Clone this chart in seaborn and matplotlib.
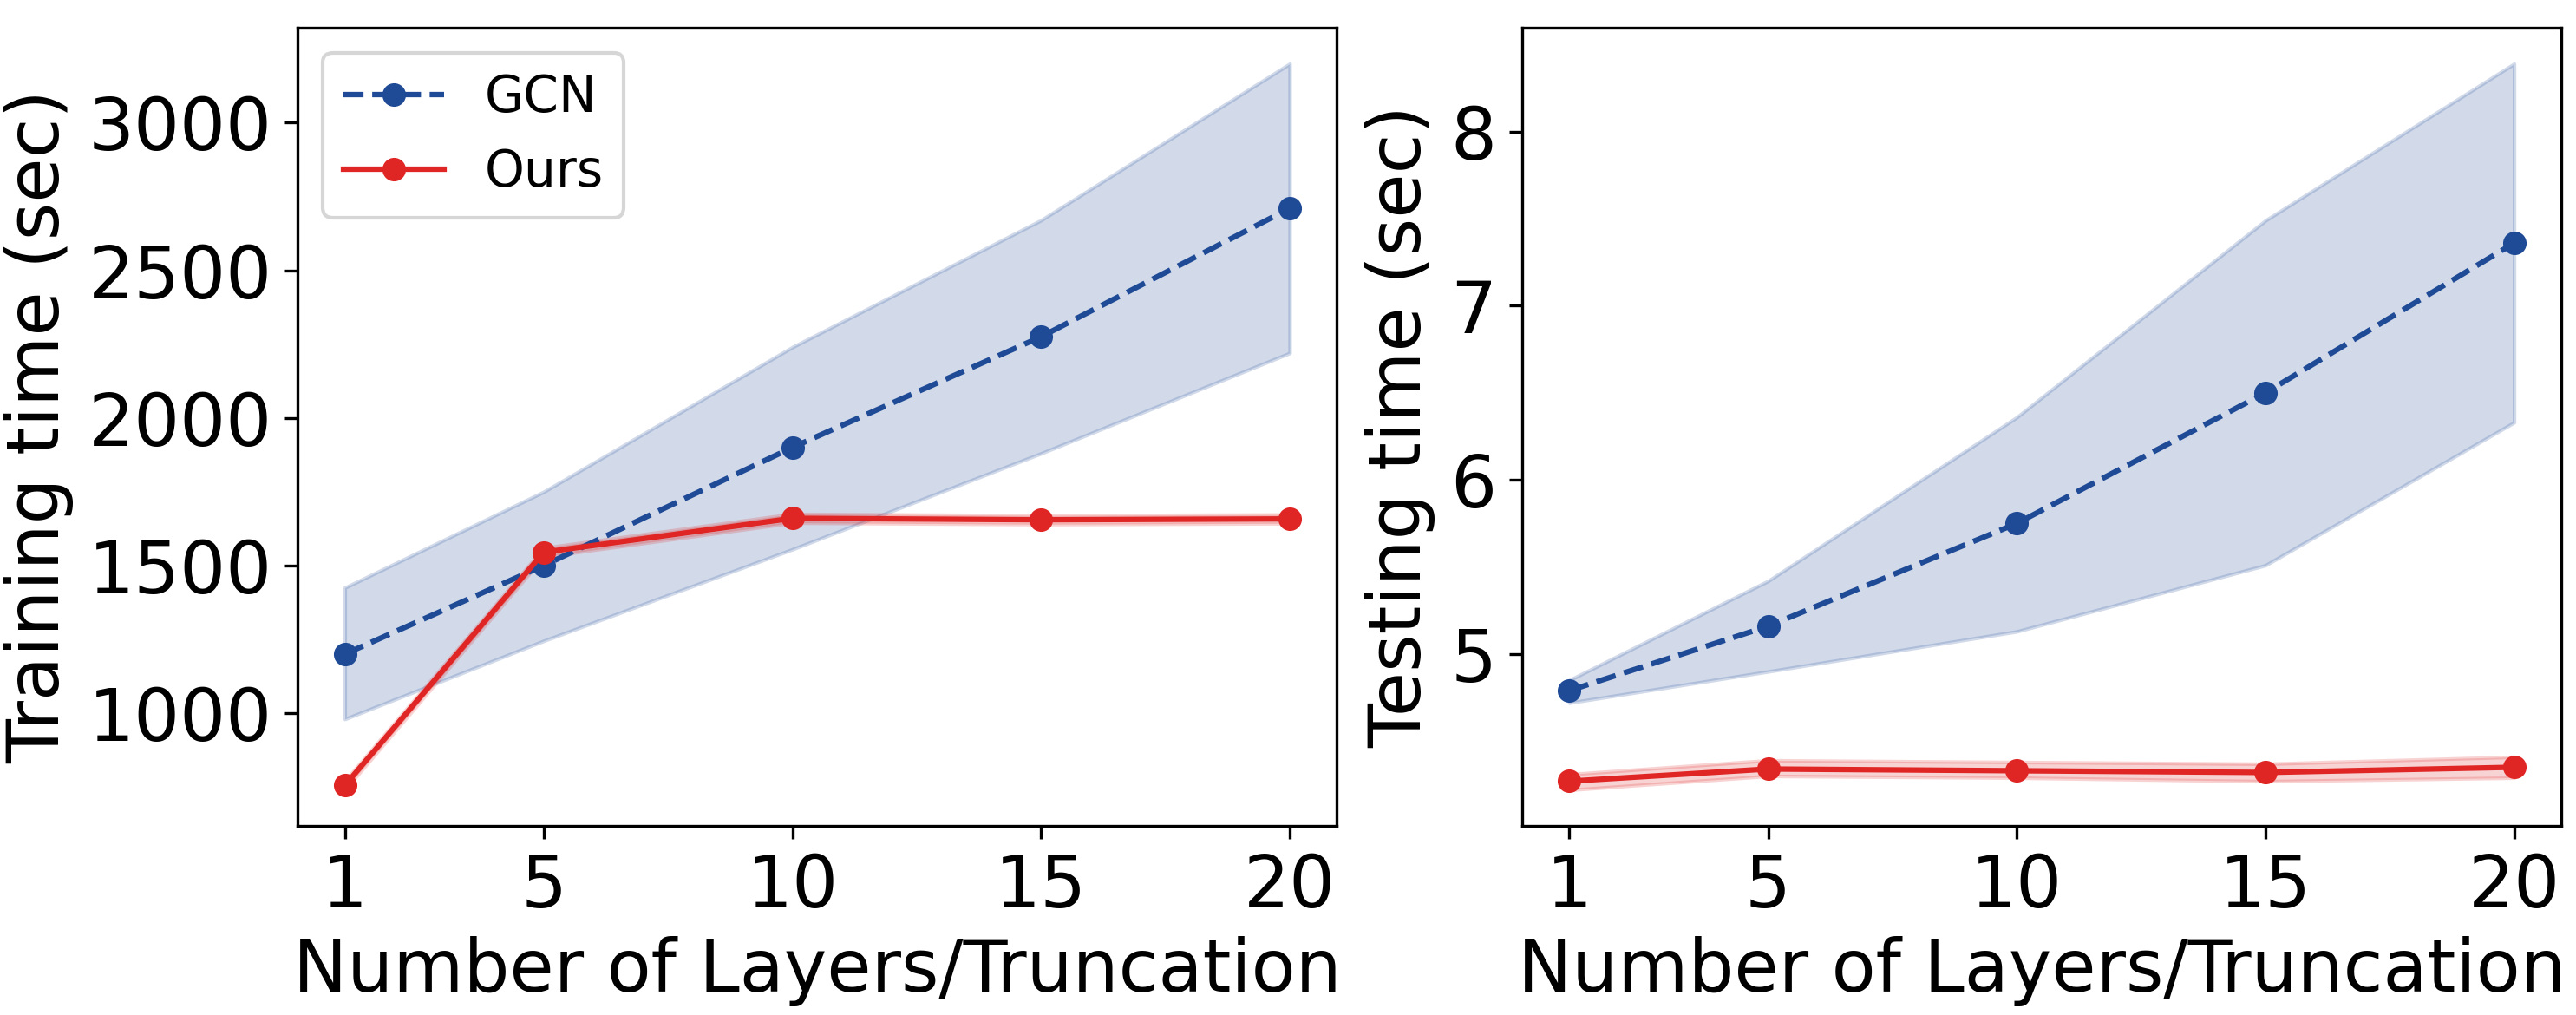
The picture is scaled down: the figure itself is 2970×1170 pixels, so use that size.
import matplotlib
matplotlib.use("Agg")
import matplotlib.pyplot as plt
import seaborn as sns
import pandas as pd

# ── Data ─────────────────────────────────────────────────────────────────────
LAYERS = [1, 5, 10, 15, 20]

train_gcn       = [1200, 1500, 1900, 2275, 2710]
train_gcn_low   = [980, 1245, 1555, 1880, 2220]
train_gcn_high  = [1425, 1750, 2240, 2670, 3200]
train_ours      = [755, 1545, 1660, 1655, 1658]
train_ours_low  = [740, 1530, 1645, 1640, 1643]
train_ours_high = [770, 1560, 1675, 1670, 1673]

test_gcn       = [4.79, 5.16, 5.75, 6.50, 7.36]
test_gcn_low   = [4.72, 4.90, 5.13, 5.51, 6.33]
test_gcn_high  = [4.85, 5.42, 6.36, 7.49, 8.39]
test_ours      = [4.27, 4.34, 4.33, 4.32, 4.35]
test_ours_low  = [4.22, 4.30, 4.29, 4.27, 4.29]
test_ours_high = [4.31, 4.39, 4.38, 4.37, 4.41]

TRAIN_TICKS = [1000, 1500, 2000, 2500, 3000]
TEST_TICKS = [5, 6, 7, 8]

BLUE = "#1f4a96"
RED = "#e02624"

fig, axes = plt.subplots(1, 2, figsize=(9.9, 3.9), dpi=300)
plt.subplots_adjust(left=0.1155, right=0.9943, bottom=0.186, top=0.973, wspace=0.178)

panels = [
    (axes[0], train_gcn, train_gcn_low, train_gcn_high,
     train_ours, train_ours_low, train_ours_high, "Training time (sec)", TRAIN_TICKS),
    (axes[1], test_gcn, test_gcn_low, test_gcn_high,
     test_ours, test_ours_low, test_ours_high, "Testing time (sec)", TEST_TICKS),
]

for ax, g, gl, gh, o, ol, oh, ylab, yt in panels:
    df = pd.DataFrame({"layers": LAYERS, "GCN": g, "Ours": o})
    ax.fill_between(LAYERS, gl, gh, color=BLUE, alpha=0.2, linewidth=1)
    ax.fill_between(LAYERS, ol, oh, color=RED, alpha=0.2, linewidth=1)
    sns.lineplot(data=df, x="layers", y="GCN", ax=ax, color=BLUE, linestyle="--",
                 marker="o", markersize=6.5, markeredgewidth=0, linewidth=1.5, label="GCN")
    sns.lineplot(data=df, x="layers", y="Ours", ax=ax, color=RED, linestyle="-",
                 marker="o", markersize=6.5, markeredgewidth=0, linewidth=1.5, label="Ours")
    ax.set_xticks(LAYERS)
    ax.set_yticks(yt)
    ax.set_xlabel("Number of Layers/Truncation", fontsize=20)
    ax.set_ylabel(ylab, fontsize=20)
    ax.tick_params(axis="both", labelsize=20)

axes[0].legend(loc="upper left", fontsize=14)
axes[1].get_legend().remove()

plt.savefig("out.png", dpi=300)
